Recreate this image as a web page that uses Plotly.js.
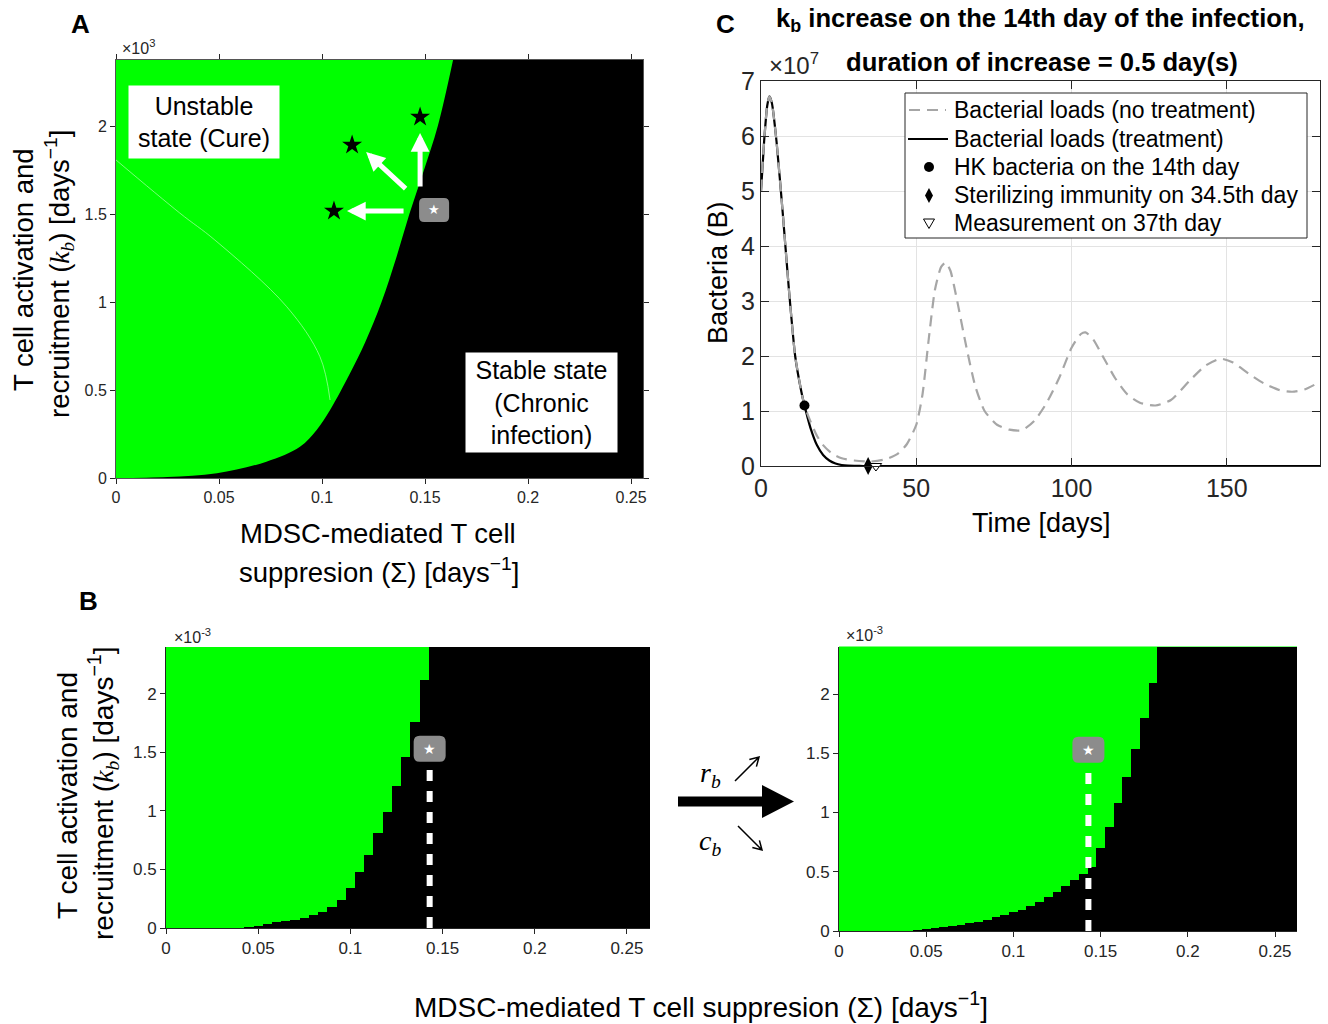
<!DOCTYPE html>
<html><head><meta charset="utf-8">
<script src="https://cdn.plot.ly/plotly-3.0.1.min.js"></script>
<style>html,body{margin:0;padding:0;background:#fff}</style>
</head><body><div id="chart" style="width:1328px;height:1024px"></div>
<script>
// ---------------- DATA ----------------
// Panel A: boundary between unstable (green) and stable (black) regions; kb in units of 1e-3
const boundarySigmaA = [0, 0.025, 0.049, 0.073, 0.0893, 0.0974, 0.1039, 0.1136, 0.1209, 0.1289, 0.136, 0.1424, 0.1495, 0.1562, 0.1636];
const boundaryKbA    = [0, 0.006, 0.027, 0.093, 0.178, 0.273, 0.386, 0.595, 0.77, 1.0, 1.25, 1.5, 1.75, 2.0, 2.375];
// faint artifact curve inside green region
const artSigmaA = [0, 0.031, 0.048, 0.0829, 0.099, 0.1039];
const artKbA    = [1.807, 1.505, 1.352, 0.973, 0.689, 0.443];
// black stars (new parameter sets)
const starSigmaA = [0.1146, 0.1476, 0.1058];
const starKbA    = [1.892, 2.051, 1.517];
// arrows (tail -> tip)
const arrowTailSigmaA = [0.1413, 0.1476, 0.1403];
const arrowTailKbA    = [1.636, 1.648, 1.517];
const arrowTipSigmaA  = [0.1214, 0.1476, 0.1121];
const arrowTipKbA     = [1.852, 1.960, 1.517];
// reference point label (grey box)
const refSigmaA = 0.1544, refKbA = 1.523;

// Panel B: grid columns of Sigma and the kb (1e-3) value below which state is stable (black)
const colSigma = [0, 0.005, 0.01, 0.015, 0.02, 0.025, 0.03, 0.035, 0.04, 0.045, 0.05, 0.055, 0.06, 0.065, 0.07, 0.075, 0.08, 0.085, 0.09, 0.095, 0.1, 0.105, 0.11, 0.115, 0.12, 0.125, 0.13, 0.135, 0.14, 0.145, 0.15, 0.155, 0.16, 0.165, 0.17, 0.175, 0.18, 0.185, 0.19, 0.195, 0.2, 0.205, 0.21, 0.215, 0.22, 0.225, 0.23, 0.235, 0.24, 0.245, 0.25, 0.255, 0.26];
const stableKbLeft = [0, 0, 0, 0, 0, 0, 0, 0, 0, 0.01, 0.02, 0.035, 0.05, 0.06, 0.07, 0.085, 0.11, 0.14, 0.18, 0.24, 0.34, 0.48, 0.62, 0.81, 0.99, 1.21, 1.46, 1.76, 2.12, 2.4, 2.4, 2.4, 2.4, 2.4, 2.4, 2.4, 2.4, 2.4, 2.4, 2.4, 2.4, 2.4, 2.4, 2.4, 2.4, 2.4, 2.4, 2.4, 2.4, 2.4, 2.4, 2.4, 2.4];
const stableKbRight = [0, 0, 0, 0, 0, 0, 0, 0, 0, 0.005, 0.015, 0.025, 0.03, 0.04, 0.05, 0.065, 0.08, 0.095, 0.115, 0.135, 0.16, 0.18, 0.21, 0.245, 0.29, 0.33, 0.38, 0.43, 0.48, 0.54, 0.70, 0.88, 1.08, 1.30, 1.54, 1.795, 2.09, 2.4, 2.4, 2.4, 2.4, 2.4, 2.4, 2.4, 2.4, 2.4, 2.4, 2.4, 2.4, 2.4, 2.4, 2.4, 2.4];
const refSigmaB = 0.143, refKbB = 1.53, dashTopKbB = 1.39;

// Panel C: bacteria (units of 1e7) vs days
const dayNoTreat = [0,1,2,2.7,3.5,5,7,9,11,13,14,16,18,20,23,26,30,35,40,44,47,50,52,54,56,58,59.5,61,63,66,69,72,76,80,84,88,92,96,100,103,104.5,107,110,114,118,122,127,132,138,143,148,152,157,162,167,171,175,180];
const bactNoTreat = [5.0,5.9,6.55,6.72,6.6,5.9,4.6,3.2,2.0,1.35,1.1,0.8,0.55,0.38,0.22,0.14,0.1,0.08,0.12,0.22,0.4,0.75,1.3,2.3,3.2,3.62,3.7,3.55,3.05,2.2,1.45,1.0,0.75,0.66,0.65,0.82,1.15,1.6,2.15,2.4,2.43,2.3,2.0,1.6,1.3,1.15,1.1,1.2,1.55,1.82,1.95,1.88,1.68,1.5,1.38,1.35,1.39,1.53];
const dayTreat = [0,1,2,2.7,3.5,5,7,9,11,13,14,15,16,18,20,22,24,26,28,30,33,180];
const bactTreat = [5.0,5.9,6.55,6.72,6.6,5.9,4.6,3.2,2.0,1.35,1.1,0.88,0.68,0.38,0.2,0.1,0.045,0.018,0.006,0.002,0,0];
const hkDay = [14], hkBact = [1.1];
const steriDay = [34.5], steriBact = [0];
const measDay = [37], measBact = [0];
const legendNames = ['Bacterial loads (no treatment)', 'Bacterial loads (treatment)', 'HK bacteria on the 14th day', 'Sterilizing immunity on 34.5th day', 'Measurement on 37th day'];

// ---------------- HELPERS ----------------
const W = 1328, H = 1024;
const PX = p => p / W;
const PY = p => 1 - p / H;
const SANS = 'Liberation Sans, Arial, Helvetica, sans-serif';
const SERIF = 'Liberation Serif, DejaVu Serif, serif';
const GREEN = '#00ff00';
const AX = '#262626';
const kbHtml = `<span style="font-family:'Liberation Serif',serif"><i>k<sub>b</sub></i></span>`;

function pPath(segs) {
  return segs.map(s => s[0] + (s.length > 1 ? ' ' + PX(s[1]).toFixed(5) + ',' + PY(s[2]).toFixed(5) : '')).join(' ');
}
function roundRect(w, h, r) {
  const a = w / 2, b = h / 2;
  return `M ${-a + r},${-b} L ${a - r},${-b} Q ${a},${-b} ${a},${-b + r} L ${a},${b - r} Q ${a},${b} ${a - r},${b} L ${-a + r},${b} Q ${-a},${b} ${-a},${b - r} L ${-a},${-b + r} Q ${-a},${-b} ${-a + r},${-b} Z`;
}
function thinArrow(x0, y0, x1, y1, len, ang) {
  const dx = x0 - x1, dy = y0 - y1, L = Math.hypot(dx, dy);
  const ux = dx / L, uy = dy / L, c = Math.cos(ang), s = Math.sin(ang);
  const h1 = [x1 + len * (c * ux - s * uy), y1 + len * (s * ux + c * uy)];
  const h2 = [x1 + len * (c * ux + s * uy), y1 + len * (-s * ux + c * uy)];
  return pPath([['M', x0, y0], ['L', x1, y1], ['M', h1[0], h1[1]], ['L', x1, y1], ['L', h2[0], h2[1]]]);
}
function ann(text, x, y, size, extra) {
  return Object.assign({ text, x: PX(x), y: PY(y), xref: 'paper', yref: 'paper', showarrow: false,
    xanchor: 'center', yanchor: 'middle', font: { family: SANS, size, color: '#000' } }, extra || {});
}

// ---------------- TRACES ----------------
const xmaxA = 0.2558, ymaxA = 2.375;
const traces = [];
// Panel A: right edge of the plot, then boundary filled horizontally to it (stable = black)
traces.push({ type: 'scatter', mode: 'lines', xaxis: 'x', yaxis: 'y', x: [xmaxA, xmaxA], y: [0, ymaxA],
  line: { width: 0, color: '#000' }, showlegend: false, hoverinfo: 'skip' });
traces.push({ type: 'scatter', mode: 'lines', xaxis: 'x', yaxis: 'y', x: boundarySigmaA, y: boundaryKbA,
  fill: 'tonextx', fillcolor: '#000', line: { width: 0, color: '#000', shape: 'spline', smoothing: 1 }, showlegend: false, hoverinfo: 'skip' });
traces.push({ type: 'scatter', mode: 'lines', xaxis: 'x', yaxis: 'y', x: artSigmaA, y: artKbA,
  line: { color: 'rgba(150,255,150,0.8)', width: 1, shape: 'spline' }, showlegend: false, hoverinfo: 'skip' });
traces.push({ type: 'scatter', mode: 'markers', xaxis: 'x', yaxis: 'y', x: starSigmaA, y: starKbA,
  marker: { symbol: 'star', size: 15, color: '#000' }, showlegend: false, hoverinfo: 'skip' });

// Panel B bars
traces.push({ type: 'bar', xaxis: 'x2', yaxis: 'y2', x: colSigma, y: stableKbLeft, width: 0.005,
  marker: { color: '#000', line: { width: 0 } }, showlegend: false, hoverinfo: 'skip' });
traces.push({ type: 'bar', xaxis: 'x3', yaxis: 'y3', x: colSigma, y: stableKbRight, width: 0.005,
  marker: { color: '#000', line: { width: 0 } }, showlegend: false, hoverinfo: 'skip' });
traces.push({ type: 'scatter', mode: 'lines', xaxis: 'x2', yaxis: 'y2', x: [refSigmaB, refSigmaB], y: [0, dashTopKbB],
  line: { color: '#fff', width: 6, dash: '11px,10px' }, showlegend: false, hoverinfo: 'skip', cliponaxis: false });
traces.push({ type: 'scatter', mode: 'lines', xaxis: 'x3', yaxis: 'y3', x: [refSigmaB, refSigmaB], y: [0, dashTopKbB],
  line: { color: '#fff', width: 6, dash: '11px,10px' }, showlegend: false, hoverinfo: 'skip', cliponaxis: false });

// Panel C
traces.push({ type: 'scatter', mode: 'lines', xaxis: 'x4', yaxis: 'y4', x: dayTreat, y: bactTreat, name: legendNames[1],
  line: { color: '#000', width: 2.2, shape: 'spline', smoothing: 0.5 }, cliponaxis: false });
traces.push({ type: 'scatter', mode: 'lines', xaxis: 'x4', yaxis: 'y4', x: dayNoTreat, y: bactNoTreat, name: legendNames[0],
  line: { color: '#a6a6a6', width: 2.2, dash: '11px,7px', shape: 'spline', smoothing: 0.6 } });
traces.push({ type: 'scatter', mode: 'markers', xaxis: 'x4', yaxis: 'y4', x: hkDay, y: hkBact, name: legendNames[2],
  marker: { symbol: 'circle', size: 10, color: '#000' }, cliponaxis: false });
traces.push({ type: 'scatter', mode: 'markers', xaxis: 'x4', yaxis: 'y4', x: steriDay, y: steriBact, name: legendNames[3],
  marker: { symbol: 'diamond-tall', size: 13, color: '#000' }, cliponaxis: false });
traces.push({ type: 'scatter', mode: 'markers', xaxis: 'x4', yaxis: 'y4', x: measDay, y: measBact, name: legendNames[4],
  marker: { symbol: 'triangle-down', size: 10, color: '#fff', line: { color: '#000', width: 1 } }, cliponaxis: false });

// ---------------- AXES ----------------
const tickA = { family: SANS, size: 16, color: AX };
const baseAx = { showgrid: false, zeroline: false, showline: true, linecolor: AX, linewidth: 1, tickcolor: AX, fixedrange: true };
const layout = {
  width: W, height: H, margin: { l: 0, r: 0, t: 0, b: 0 }, paper_bgcolor: '#fff', plot_bgcolor: '#fff',
  hovermode: false, showlegend: false, bargap: 0,
  xaxis: Object.assign({}, baseAx, { domain: [PX(116), PX(643)], range: [0, xmaxA], anchor: 'y', tickvals: [0, 0.05, 0.1, 0.15, 0.2, 0.25],
    ticks: 'outside', ticklen: 5, mirror: 'ticks', tickfont: tickA, linecolor: '#555' }),
  yaxis: Object.assign({}, baseAx, { domain: [PY(478), PY(60)], range: [0, ymaxA], anchor: 'x', tickvals: [0, 0.5, 1, 1.5, 2],
    ticks: 'outside', ticklen: 5, mirror: 'ticks', tickfont: tickA, linecolor: '#555' }),
  xaxis2: Object.assign({}, baseAx, { domain: [PX(166), PX(650)], range: [0, 0.2625], anchor: 'y2', tickvals: [0, 0.05, 0.1, 0.15, 0.2, 0.25],
    ticks: 'outside', ticklen: 5, tickfont: { family: SANS, size: 17, color: AX } }),
  yaxis2: Object.assign({}, baseAx, { domain: [PY(928), PY(647)], range: [0, 2.4], anchor: 'x2', tickvals: [0, 0.5, 1, 1.5, 2],
    ticks: 'outside', ticklen: 5, tickfont: { family: SANS, size: 17, color: AX } }),
  xaxis3: Object.assign({}, baseAx, { domain: [PX(839), PX(1297)], range: [0, 0.2626], anchor: 'y3', tickvals: [0, 0.05, 0.1, 0.15, 0.2, 0.25],
    ticks: 'outside', ticklen: 5, tickfont: { family: SANS, size: 17, color: AX } }),
  yaxis3: Object.assign({}, baseAx, { domain: [PY(931), PY(646.6)], range: [0, 2.4], anchor: 'x3', tickvals: [0, 0.5, 1, 1.5, 2],
    ticks: 'outside', ticklen: 5, tickfont: { family: SANS, size: 17, color: AX } }),
  xaxis4: Object.assign({}, baseAx, { domain: [PX(761), PX(1320)], range: [0, 180], anchor: 'y4', tickvals: [0, 50, 100, 150],
    ticks: 'inside', ticklen: 8, mirror: 'allticks', showgrid: true, gridcolor: '#e3e3e3', tickfont: { family: SANS, size: 25, color: AX } }),
  yaxis4: Object.assign({}, baseAx, { domain: [PY(466), PY(81)], range: [0, 7], anchor: 'x4', tickvals: [0, 1, 2, 3, 4, 5, 6, 7],
    ticks: 'inside', ticklen: 8, mirror: 'allticks', showgrid: true, gridcolor: '#e3e3e3', tickfont: { family: SANS, size: 25, color: AX } }),
  shapes: [
    { type: 'rect', xref: 'x domain', yref: 'y domain', x0: 0, x1: 1, y0: 0, y1: 1, fillcolor: GREEN, line: { width: 0 }, layer: 'below' },
    { type: 'rect', xref: 'x2 domain', yref: 'y2 domain', x0: 0, x1: 1, y0: 0, y1: 1, fillcolor: GREEN, line: { width: 0 }, layer: 'below' },
    { type: 'rect', xref: 'x3 domain', yref: 'y3 domain', x0: 0, x1: 1, y0: 0, y1: 1, fillcolor: GREEN, line: { width: 0 }, layer: 'below' },
    { type: 'path', xref: 'x', yref: 'y', xsizemode: 'pixel', ysizemode: 'pixel', xanchor: refSigmaA, yanchor: refKbA,
      path: roundRect(30, 24, 5), fillcolor: '#8c8c8c', line: { width: 0 }, layer: 'above' },
    { type: 'path', xref: 'x2', yref: 'y2', xsizemode: 'pixel', ysizemode: 'pixel', xanchor: refSigmaB, yanchor: refKbB,
      path: roundRect(32, 26, 6), fillcolor: '#8c8c8c', line: { width: 0 }, layer: 'above' },
    { type: 'path', xref: 'x3', yref: 'y3', xsizemode: 'pixel', ysizemode: 'pixel', xanchor: refSigmaB, yanchor: refKbB,
      path: roundRect(32, 26, 6), fillcolor: '#8c8c8c', line: { width: 0 }, layer: 'above' },
    // big arrow between B panels
    { type: 'path', xref: 'paper', yref: 'paper', path: pPath([['M', 678, 796.5], ['L', 766, 796.5], ['L', 766, 806.5], ['L', 678, 806.5], ['Z']]),
      fillcolor: '#000', line: { width: 0 } },
    { type: 'path', xref: 'paper', yref: 'paper', path: pPath([['M', 762, 785], ['L', 794, 801.5], ['L', 762, 818], ['Z']]),
      fillcolor: '#000', line: { width: 0 } },
    { type: 'path', xref: 'paper', yref: 'paper', path: thinArrow(735, 781, 759, 757, 10, Math.PI / 6), line: { color: '#000', width: 1.5 } },
    { type: 'path', xref: 'paper', yref: 'paper', path: thinArrow(738, 826, 762, 850, 10, Math.PI / 6), line: { color: '#000', width: 1.5 } },
    // legend of panel C
    { type: 'rect', xref: 'paper', yref: 'paper', x0: PX(905), x1: PX(1307), y0: PY(238), y1: PY(93), fillcolor: '#fff',
      line: { color: AX, width: 1 }, layer: 'above' },
    { type: 'line', xref: 'paper', yref: 'paper', x0: PX(909), x1: PX(946), y0: PY(110), y1: PY(110), line: { color: '#a6a6a6', width: 2.2, dash: '11px,7px' }, layer: 'above' },
    { type: 'line', xref: 'paper', yref: 'paper', x0: PX(908), x1: PX(948), y0: PY(139), y1: PY(139), line: { color: '#000', width: 2.2 }, layer: 'above' },
    { type: 'circle', xref: 'paper', yref: 'paper', x0: PX(924), x1: PX(934), y0: PY(172), y1: PY(162), fillcolor: '#000', line: { width: 0 }, layer: 'above' },
    { type: 'path', xref: 'paper', yref: 'paper', path: pPath([['M', 929, 188], ['L', 933, 195.5], ['L', 929, 203], ['L', 925, 195.5], ['Z']]), fillcolor: '#000', line: { width: 0 }, layer: 'above' },
    { type: 'path', xref: 'paper', yref: 'paper', path: pPath([['M', 923.5, 219], ['L', 934.5, 219], ['L', 929, 228.5], ['Z']]), fillcolor: '#fff', line: { color: '#000', width: 1 }, layer: 'above' }
  ],
  annotations: []
};

const A = layout.annotations;
// Panel letters
A.push(ann('<b>A</b>', 80, 24, 26));
A.push(ann('<b>B</b>', 88, 601, 26));
A.push(ann('<b>C</b>', 725, 24, 26));
// Panel A texts
A.push(ann('Unstable<br>state (Cure)', 204, 122, 25, { bgcolor: '#fff', width: 150, height: 72, borderpad: 0 }));
A.push(ann('Stable state<br>(Chronic<br>infection)', 541.5, 402.5, 25, { bgcolor: '#fff', width: 151, height: 99, borderpad: 0 }));
A.push(ann('T cell activation and', 23, 270, 27.5, { textangle: -90 }));
A.push(ann('recruitment (' + kbHtml + ') [days<sup>−1</sup>]', 59, 274, 27.5, { textangle: -90 }));
A.push(ann('MDSC-mediated T cell', 378, 533, 27.5));
A.push(ann('suppresion (Σ) [days<sup>−1</sup>]', 379, 570, 27.5));
A.push(ann('×10<sup>3</sup>', 138, 47, 16, { font: { family: SANS, size: 16, color: AX } }));
// arrows in A
for (let i = 0; i < arrowTipSigmaA.length; i++) {
  A.push({ x: arrowTipSigmaA[i], y: arrowTipKbA[i], ax: arrowTailSigmaA[i], ay: arrowTailKbA[i], xref: 'x', yref: 'y', axref: 'x', ayref: 'y',
    text: '', showarrow: true, arrowhead: 2, arrowsize: 0.75, arrowwidth: 5, arrowcolor: '#fff' });
}
A.push({ x: refSigmaA, y: refKbA, xref: 'x', yref: 'y', text: '★', showarrow: false, font: { family: 'DejaVu Sans', size: 13, color: '#fff' } });
// Panel B texts
A.push({ x: refSigmaB, y: refKbB, xref: 'x2', yref: 'y2', text: '★', showarrow: false, font: { family: 'DejaVu Sans', size: 14, color: '#fff' } });
A.push({ x: refSigmaB, y: refKbB, xref: 'x3', yref: 'y3', text: '★', showarrow: false, font: { family: 'DejaVu Sans', size: 14, color: '#fff' } });
A.push(ann('×10<sup>-3</sup>', 192, 636, 16, { font: { family: SANS, size: 16, color: AX } }));
A.push(ann('×10<sup>-3</sup>', 864, 634, 16, { font: { family: SANS, size: 16, color: AX } }));
A.push(ann('T cell activation and', 67, 796, 28, { textangle: -90 }));
A.push(ann('recruitment (' + kbHtml + ') [days<sup>−1</sup>]', 103, 793, 28, { textangle: -90 }));
A.push(ann('MDSC-mediated T cell suppresion (Σ) [days<sup>−1</sup>]', 701, 1005, 28));
A.push(ann('<i>r<sub>b</sub></i>', 710, 774, 28, { font: { family: SERIF, size: 28, color: '#000' } }));
A.push(ann('<i>c<sub>b</sub></i>', 710, 842, 28, { font: { family: SERIF, size: 28, color: '#000' } }));
// Panel C texts
A.push(ann('<b>k<sub>b</sub> increase on the 14th day of the infection,</b>', 1040, 20, 25.6));
A.push(ann('<b>duration of increase = 0.5 day(s)</b>', 1041.5, 62, 25.6));
A.push(ann('×10<sup>7</sup>', 794, 64, 24, { font: { family: SANS, size: 24, color: AX } }));
A.push(ann('Time [days]', 1041, 523, 27));
A.push(ann('Bacteria (B)', 718, 272, 27, { textangle: -90 }));
// Panel C legend texts
const legendRowY = [110, 139, 167, 195, 223];
legendNames.forEach((n, i) => A.push(ann(n, 952, legendRowY[i], 23, { xanchor: 'left' })));

Plotly.newPlot('chart', traces, layout, { staticPlot: true, displayModeBar: false });
</script></body></html>
